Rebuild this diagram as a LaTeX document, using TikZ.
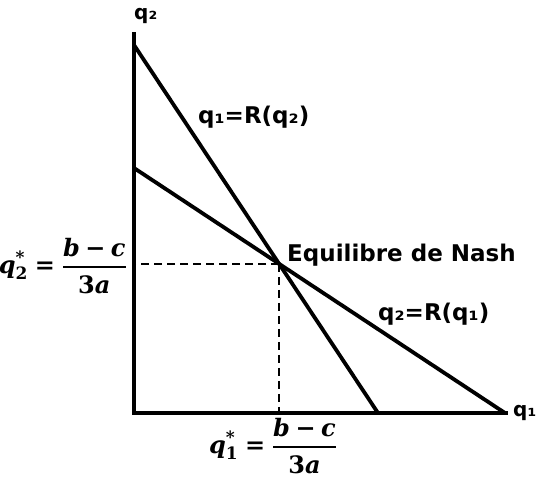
\documentclass[tikz,border=0pt]{standalone}
\usepackage[no-math]{fontspec}
\setmainfont{DejaVu Sans}
\newfontfamily\eqfont{DejaVu Serif}
\newsavebox{\eqboxone}
\newsavebox{\eqboxtwo}
\newcommand{\smallbold}{\fontsize{17}{20}\selectfont\eqfont\bfseries}
\newcommand{\eqlabel}[1]{%
  \fontsize{24}{28}\selectfont
  $\displaystyle
  \mbox{\eqfont\bfseries\itshape q}%
  ^{\mbox{\smallbold *}}_{\mbox{\smallbold #1}}
  \mathrel{\mbox{\eqfont\bfseries =}}
  {\mbox{\eqfont\bfseries\itshape b}\mathbin{\mbox{\eqfont\bfseries −}}\mbox{\eqfont\bfseries\itshape c}\above 2.4pt \mbox{\eqfont\bfseries 3\itshape a}}$}
\begin{document}
\sbox{\eqboxone}{\eqlabel{1}}
\sbox{\eqboxtwo}{\eqlabel{2}}
\begin{tikzpicture}[x=1pt,y=-1pt,
  curve/.style={line width=3.8pt},
  axisline/.style={line width=4pt, line join=miter},
  guide/.style={line width=1.7pt, dash pattern=on 8pt off 5pt},
  lbl/.style={font=\fontsize{23}{27}\bfseries\selectfont, inner sep=0pt},
  axlbl/.style={font=\fontsize{20}{24}\bfseries\selectfont, inner sep=0pt},
  mlbl/.style={inner sep=0pt}]
\useasboundingbox (0,0) rectangle (538,477);
\coordinate (Ytop) at (134,32);
\coordinate (O) at (134,413);
\coordinate (Xend) at (508,413);
\coordinate (A1) at (134,45);
\coordinate (B1) at (378,413);
\coordinate (A2) at (134,168);
\coordinate (B2) at (505,413);
\coordinate (E) at (intersection of A1--B1 and A2--B2);
% dashed guides
\draw[guide] (E) -- (E -| O);
\draw[guide] (E) -- (E |- O);
% axes
\draw[axisline] (Ytop) -- (O) -- (Xend);
% reaction curves
\draw[curve] (A1) -- (B1);
\draw[curve] (A2) -- (B2);
% labels
\node[axlbl, anchor=base west] (ly) at (134,19) {q₂};
\node[axlbl, anchor=base west] (lx) at (513,416) {q₁};
\node[lbl, anchor=base west] (r1) at (198,123) {q₁=R(q₂)};
\node[lbl, anchor=base west] (r2) at (378,320) {q₂=R(q₁)};
\node[lbl, anchor=base west] (ne) at (287,261) {Equilibre de Nash};
\node[mlbl, anchor=east] (qs2) at (127,266) {\usebox{\eqboxtwo}};
\node[mlbl] (qs1) at (273,446) {\usebox{\eqboxone}};
\end{tikzpicture}
\end{document}
